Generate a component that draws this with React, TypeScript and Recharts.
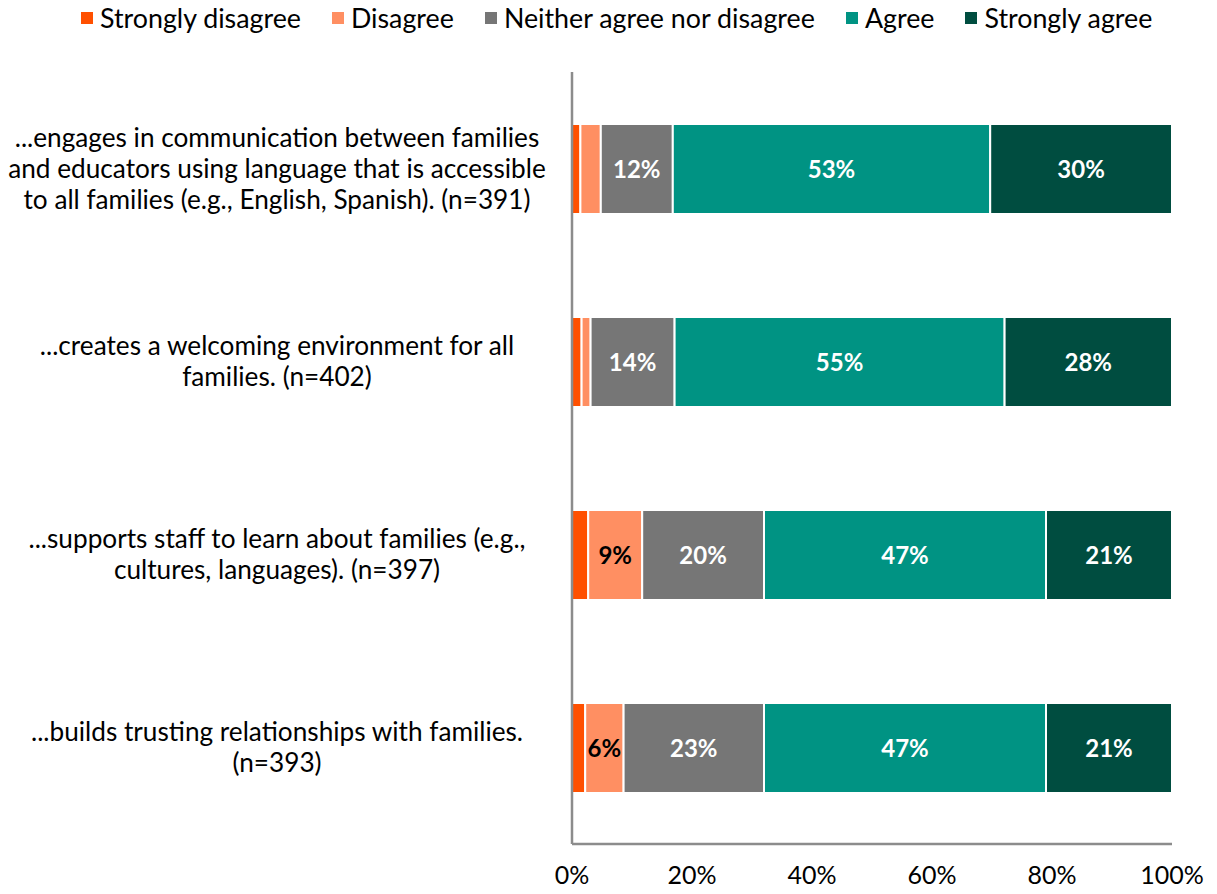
import { BarChart, Bar, XAxis, YAxis, LabelList } from "recharts";

const categories = [
  "...engages in communication between families|and educators using language that is accessible|to all families (e.g., English, Spanish). (n=391)",
  "...creates a welcoming environment for all|families. (n=402)",
  "...supports staff to learn about families (e.g.,|cultures, languages). (n=397)",
  "...builds trusting relationships with families.|(n=393)",
];

const stronglyDisagree = [1.4, 1.6, 2.7, 2.2];
const disagree = [3.4, 1.5, 9.0, 6.4];
const neither = [12.0, 14.0, 20.3, 23.4];
const agree = [52.9, 55.0, 47.0, 47.0];
const stronglyAgree = [30.3, 27.9, 21.0, 21.0];

const xTicks = [0, 20, 40, 60, 80, 100];

const SERIES = [
  { key: "sd", label: "Strongly disagree", color: "#FF5000", values: stronglyDisagree, text: "none" },
  { key: "d", label: "Disagree", color: "#FF8F62", values: disagree, text: "#000" },
  { key: "n", label: "Neither agree nor disagree", color: "#767676", values: neither, text: "#fff" },
  { key: "a", label: "Agree", color: "#009383", values: agree, text: "#fff" },
  { key: "sa", label: "Strongly agree", color: "#004D40", values: stronglyAgree, text: "#fff" },
];

const data = categories.map((name, i) => {
  const row: Record<string, string | number> = { name };
  SERIES.forEach((s) => (row[s.key] = s.values[i]));
  return row;
});

const FONT = "Lato, 'Open Sans', sans-serif";

function CategoryTick({ x, y, payload }: any) {
  const lines = String(payload.value).split("|");
  const lh = 31;
  const startY = y - ((lines.length - 1) * lh) / 2;
  const cx = x - 287;
  return (
    <text x={cx} y={startY} textAnchor="middle" fontFamily={FONT} fontSize={26.2} fill="#000">
      {lines.map((l, i) => (
        <tspan key={i} x={cx} y={startY + i * lh} dy="0.35em">
          {l}
        </tspan>
      ))}
    </text>
  );
}

const fmt = (v: any) => (Number(v) >= 5 ? `${Math.round(Number(v))}%` : "");

export default function App() {
  return (
    <div style={{ position: "absolute", left: 0, top: 0, width: 1217, height: 894, fontFamily: FONT }}>
      <div
        style={{
          position: "absolute",
          top: 2,
          left: 81,
          display: "flex",
          gap: 31,
          fontSize: 26.8,
          color: "#000",
          whiteSpace: "nowrap",
        }}
      >
        {SERIES.map((s) => (
          <div key={s.key} style={{ display: "flex", alignItems: "center", gap: 7 }}>
            <span style={{ width: 12, height: 12, background: s.color, display: "inline-block" }} />
            <span>{s.label}</span>
          </div>
        ))}
      </div>
      <BarChart
        width={1217}
        height={894}
        data={data}
        layout="vertical"
        margin={{ top: 72, right: 45, left: 0, bottom: 0 }}
        barSize={90}
      >
        <XAxis
          type="number"
          domain={[0, 100]}
          ticks={xTicks}
          tickFormatter={(v) => `${v}%`}
          height={50}
          tickLine={false}
          tickSize={0}
          tickMargin={22}
          axisLine={{ stroke: "#8c8c8c", strokeWidth: 2.5 }}
          tick={{ fontSize: 25, fill: "#000", fontFamily: FONT }}
          interval={0}
        />
        <YAxis
          type="category"
          dataKey="name"
          width={572}
          tickLine={false}
          axisLine={{ stroke: "#8c8c8c", strokeWidth: 2.5 }}
          tick={<CategoryTick />}
          interval={0}
        />
        {SERIES.map((s) => (
          <Bar
            key={s.key}
            dataKey={s.key}
            stackId="a"
            fill={s.color}
            stroke="#fff"
            strokeWidth={2}
            isAnimationActive={false}
          >
            {s.text !== "none" && (
              <LabelList
                dataKey={s.key}
                position="center"
                formatter={fmt}
                fill={s.text}
                fontSize={24}
                fontWeight="bold"
                fontFamily={FONT}
              />
            )}
          </Bar>
        ))}
      </BarChart>
    </div>
  );
}
